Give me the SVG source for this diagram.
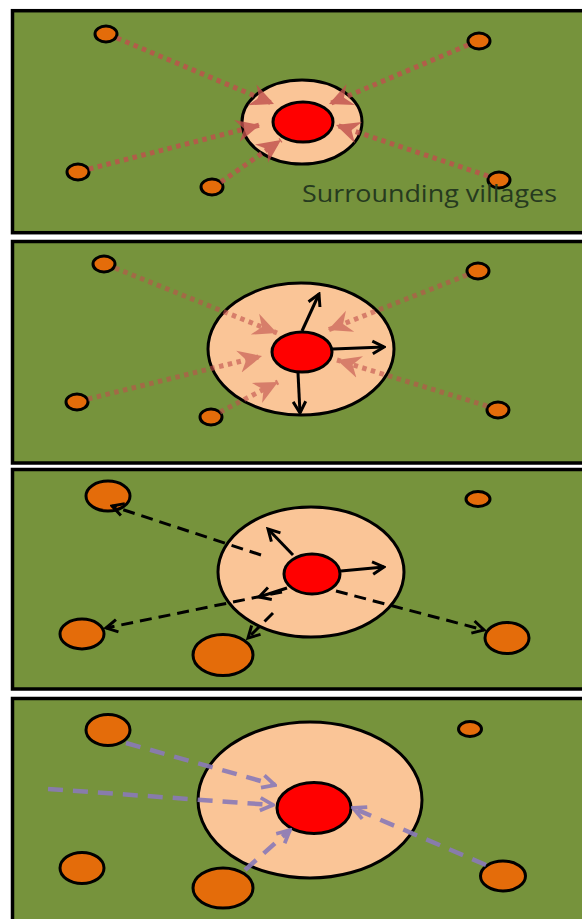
<svg xmlns="http://www.w3.org/2000/svg" width="582" height="919" viewBox="0 0 582 919">
<style>
.frame{fill:#76933c;stroke:#000;stroke-width:3.5}
.ring{fill:#fac597;stroke:#000;stroke-width:3}
.core{fill:#ff0000;stroke:#000;stroke-width:3}
.vil{fill:#e46c0a;stroke:#000;stroke-width:3}
.pink{fill:none;stroke:#c0504d;stroke-width:5;stroke-dasharray:4.5 4.5;marker-end:url(#pk)}
.blk{fill:none;stroke:#000;stroke-width:3;marker-end:url(#bk)}
.bdash{fill:none;stroke:#000;stroke-width:3;stroke-dasharray:12 7;marker-end:url(#bk)}
.pur{fill:none;stroke:#8a7ab8;stroke-width:4.5;stroke-dasharray:15 10;marker-end:url(#pu)}
.lbl{font-family:"Open Sans","Liberation Sans",sans-serif;font-size:23px;fill:#263a1f}
</style>
<defs>
<marker id="pk" viewBox="0 0 20 20" refX="19" refY="10" markerWidth="25" markerHeight="25" markerUnits="userSpaceOnUse" orient="auto">
<path d="M0,1 L19,10 L0,19 L6,10 Z" fill="#c0504d"/>
</marker>
<marker id="bk" viewBox="0 0 14 14" refX="12" refY="7" markerWidth="16" markerHeight="16" markerUnits="userSpaceOnUse" orient="auto">
<path d="M2,1.5 L12,7 L2,12.5" fill="none" stroke="#000" stroke-width="2.6"/>
</marker>
<marker id="pu" viewBox="0 0 16 16" refX="14" refY="8" markerWidth="17" markerHeight="17" markerUnits="userSpaceOnUse" orient="auto">
<path d="M2,2 L14,8 L2,14" fill="none" stroke="#8a7ab8" stroke-width="3.5"/>
</marker>
</defs>
<rect width="582" height="919" fill="#fff"/>

<g id="panel1">
<rect class="frame" x="12.5" y="10.7" width="580" height="222"/>
<g id="p1-center"><ellipse class="ring" cx="302" cy="122" rx="60" ry="42"/><ellipse class="core" cx="303" cy="122" rx="30" ry="20"/></g>
<g id="p1-villages">
<ellipse class="vil" cx="106" cy="34" rx="11" ry="8"/>
<ellipse class="vil" cx="479" cy="41" rx="11" ry="8"/>
<ellipse class="vil" cx="78" cy="172" rx="11" ry="8"/>
<ellipse class="vil" cx="212" cy="187" rx="11" ry="8"/>
<ellipse class="vil" cx="499" cy="180" rx="11" ry="8"/>
</g>
<g id="p1-connectors" opacity="0.8">
<line class="pink" x1="117" y1="38" x2="274" y2="104"/>
<line class="pink" x1="468" y1="45" x2="329" y2="104"/>
<line class="pink" x1="89" y1="169" x2="260" y2="125"/>
<line class="pink" x1="221" y1="182" x2="281" y2="140"/>
<line class="pink" x1="488" y1="176" x2="336" y2="125"/>
</g>
<text class="lbl" x="302" y="202" textLength="255" lengthAdjust="spacingAndGlyphs">Surrounding villages</text>
</g>

<g id="panel2">
<rect class="frame" x="12.5" y="241.5" width="580" height="221.5"/>
<g id="p2-center"><ellipse class="ring" cx="301" cy="349" rx="93" ry="66"/><ellipse class="core" cx="302" cy="352" rx="30" ry="20"/></g>
<g id="p2-villages">
<ellipse class="vil" cx="104" cy="264" rx="11" ry="8"/>
<ellipse class="vil" cx="478" cy="271" rx="11" ry="8"/>
<ellipse class="vil" cx="77" cy="402" rx="11" ry="8"/>
<ellipse class="vil" cx="211" cy="417" rx="11" ry="8"/>
<ellipse class="vil" cx="498" cy="410" rx="11" ry="8"/>
</g>
<g id="p2-connectors">
<g opacity="0.6">
<line class="pink" x1="115" y1="268" x2="277" y2="333"/>
<line class="pink" x1="467" y1="275" x2="328" y2="330"/>
<line class="pink" x1="88" y1="399" x2="262" y2="356"/>
<line class="pink" x1="220" y1="412" x2="278" y2="382"/>
<line class="pink" x1="487" y1="406" x2="337" y2="360"/>
</g>
<line class="blk" x1="302" y1="331" x2="319" y2="294"/>
<line class="blk" x1="333" y1="349" x2="384" y2="347"/>
<line class="blk" x1="298" y1="373" x2="300" y2="413"/>
</g>
</g>

<g id="panel3">
<rect class="frame" x="12.5" y="469.5" width="580" height="219.5"/>
<g id="p3-center"><ellipse class="ring" cx="311" cy="572" rx="93" ry="65"/><ellipse class="core" cx="312" cy="574" rx="28" ry="20"/></g>
<g id="p3-villages">
<ellipse class="vil" cx="108" cy="496" rx="22" ry="15"/>
<ellipse class="vil" cx="478" cy="499" rx="12" ry="7.5"/>
<ellipse class="vil" cx="82" cy="634" rx="22" ry="15"/>
<ellipse class="vil" cx="223" cy="655" rx="30" ry="20.5"/>
<ellipse class="vil" cx="507" cy="638" rx="22" ry="15.5"/>
</g>
<g id="p3-connectors">
<line class="blk" x1="293" y1="555" x2="268" y2="529"/>
<line class="blk" x1="341" y1="571" x2="384" y2="567"/>
<line class="blk" x1="287" y1="588" x2="259" y2="597"/>
<line class="bdash" x1="261" y1="555" x2="112" y2="506"/>
<line class="bdash" x1="282" y1="592" x2="106" y2="628"/>
<line class="bdash" x1="273" y1="613" x2="248" y2="638"/>
<line class="bdash" x1="336" y1="591" x2="484" y2="630"/>
</g>
</g>

<g id="panel4">
<rect class="frame" x="12.5" y="698.5" width="580" height="230"/>
<g id="p4-center"><ellipse class="ring" cx="310" cy="800" rx="112" ry="78"/><ellipse class="core" cx="314" cy="808" rx="37" ry="25.5"/></g>
<g id="p4-villages">
<ellipse class="vil" cx="108" cy="730" rx="22" ry="15.5"/>
<ellipse class="vil" cx="470" cy="729" rx="11.5" ry="7.5"/>
<ellipse class="vil" cx="82" cy="868" rx="22" ry="15.5"/>
<ellipse class="vil" cx="223" cy="888" rx="30" ry="20"/>
<ellipse class="vil" cx="503" cy="876" rx="22.5" ry="15"/>
</g>
<g id="p4-connectors" opacity="0.9">
<line class="pur" x1="126" y1="743" x2="275" y2="785"/>
<line class="pur" x1="48" y1="789" x2="273" y2="805"/>
<line class="pur" x1="245" y1="870" x2="290" y2="830"/>
<line class="pur" x1="486" y1="865" x2="353" y2="808"/>
</g>
</g>
</svg>
